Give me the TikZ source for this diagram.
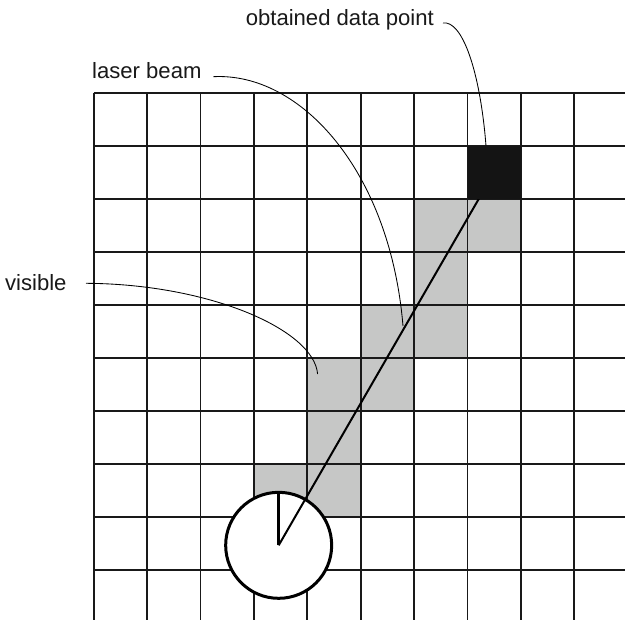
\documentclass[tikz,border=0pt]{standalone}
\usepackage{fontspec}
\setmainfont{Liberation Sans}
\begin{document}
\begin{tikzpicture}[x=1pt,y=-1pt,
  gridline/.style={line width=1.9pt, black!90},
  vis/.style={fill=visgray},
  leader/.style={line width=0.85pt, black},
  lab/.style={inner sep=0pt, anchor=base east, font=\fontsize{22.1}{26}\selectfont, text=black!90},
  beam/.style={line width=2pt, black},
  scanner/.style={circle, draw=black, fill=white, line width=3pt, minimum size=106pt, inner sep=0pt},
  datapt/.style={fill=black!92, minimum width=53.4pt, minimum height=53pt, inner sep=0pt, draw=none}]
\definecolor{visgray}{HTML}{C6C7C6}
\useasboundingbox (0,0) rectangle (625,620);
\fill[white] (0,0) rectangle (625,620);
\begin{scope}[shift={(93.7,92.7)}, x=53.4pt, y=-53pt]
  % visible cells
  \foreach \i/\j in {6/2,7/2,6/3,5/4,6/4,4/5,5/5,4/6,3/7,4/7}
    \fill[vis] (\i,\j) rectangle ++(1,1);
  % grid
  \foreach \i in {0,...,9}
    \draw[gridline] (\i,0) -- (\i,9.95);
  \foreach \j in {0,...,9}
    \draw[gridline] (0,\j) -- (9.95,\j);
  \node[scanner] (scan) at (3.464,8.54) {};
  \coordinate (dpc) at (7.5,1.5);
  \draw[beam] (scan.center) -- (dpc);
  \draw[line width=3.5pt] (scan.center) -- (scan.north);
  \node[datapt] (dp) at (7.5,1.5) {};
\end{scope}
% labels
\node[lab] (odp) at (434,26) {obtained data point};
\node[lab] (lb) at (201.7,78.3) {laser beam};
\node[lab] (vl) at (66.7,291) {visible};
\coordinate (odpend) at (486,145.7);
\coordinate (lbend) at (403,326);
\coordinate (vlend) at (317.6,374);
\draw[leader] ([xshift=9pt,yshift=3pt]odp.base east) .. controls (462,20) and (480,70) .. (odpend);
\draw[leader] ([xshift=11.6pt,yshift=1.6pt]lb.base east) .. controls (300,72) and (390,170) .. (lbend);
\draw[leader] ([xshift=19.3pt,yshift=7.7pt]vl.base east) .. controls (210,284) and (314,330) .. (vlend);
\end{tikzpicture}
\end{document}
